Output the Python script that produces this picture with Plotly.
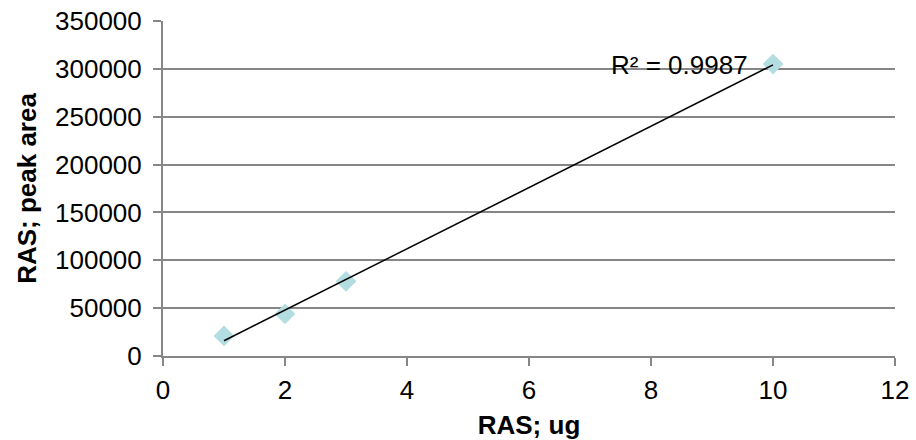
import numpy as np
import plotly.graph_objects as go

x_ug = [1, 2, 3, 10]
peak_area = [21000, 44000, 78000, 305000]
r2_label = "R² = 0.9987"
x_title = "RAS; ug"
y_title = "RAS; peak area"

slope, intercept = np.polyfit(x_ug, peak_area, 1)
fit_x = [min(x_ug), max(x_ug)]
fit_y = [slope * v + intercept for v in fit_x]

FONT = "Liberation Sans, Arial, sans-serif"
GRAY = "#868686"
FS = 26

fig = go.Figure()
fig.add_trace(go.Scatter(
    x=x_ug, y=peak_area, mode="markers",
    marker=dict(symbol="diamond", size=16, color="#b3dde0", line=dict(width=0)),
    showlegend=False,
))
fig.add_trace(go.Scatter(
    x=fit_x, y=fit_y, mode="lines",
    line=dict(color="black", width=1.5), showlegend=False,
))
fig.add_annotation(
    x=7.31, y=304000, text=r2_label, showarrow=False,
    xanchor="left", yanchor="middle",
    font=dict(family=FONT, size=FS, color="black"),
)

fig.update_layout(
    width=916, height=440,
    margin=dict(l=163, r=21, t=21, b=84, autoexpand=False),
    paper_bgcolor="white", plot_bgcolor="white",
    font=dict(family=FONT, size=FS, color="black"),
)
fig.update_xaxes(
    range=[0, 12], dtick=2, tick0=0, automargin=False,
    showgrid=False, zeroline=False,
    showline=True, linecolor=GRAY, linewidth=2,
    ticks="outside", ticklen=8, tickcolor=GRAY, tickwidth=2,
    ticklabelstandoff=2, ticklabeloverflow="allow",
    tickfont=dict(family=FONT, size=FS, color="black"),
    title=dict(text="<b>" + x_title + "</b>", font=dict(family=FONT, size=FS), standoff=13),
)
fig.update_yaxes(
    range=[0, 350000], dtick=50000, tick0=0, automargin=False,
    showgrid=True, gridcolor=GRAY, gridwidth=2, zeroline=False,
    showline=True, linecolor=GRAY, linewidth=2,
    ticks="outside", ticklen=8, tickcolor=GRAY, tickwidth=2,
    ticklabelstandoff=6, ticklabeloverflow="allow",
    tickformat="d",
    tickfont=dict(family=FONT, size=FS, color="black"),
    title=dict(text="<b>" + y_title + "</b>", font=dict(family=FONT, size=FS), standoff=11),
)

fig.write_html(
    "out.html",
    config={"displayModeBar": False},
    post_script="document.body.style.margin='0';",
)
